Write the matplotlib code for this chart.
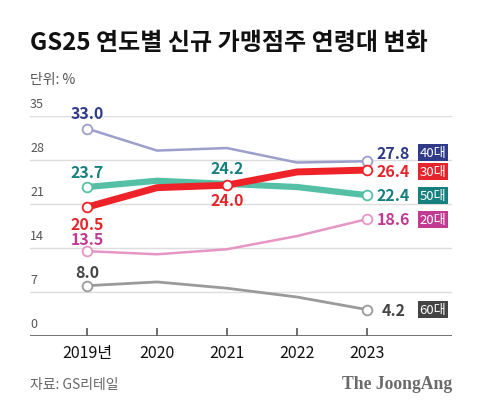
import matplotlib.pyplot as plt
import numpy as np

plt.rcParams['font.family'] = ['Noto Sans CJK KR', 'DejaVu Sans']

years = [2019, 2020, 2021, 2022, 2023]
ages = ['40대', '30대', '50대', '20대', '60대']
share = {
    '40대': [33.0, 29.5, 29.9, 27.6, 27.8],
    '30대': [20.5, 23.6, 24.0, 26.1, 26.4],
    '50대': [23.7, 24.7, 24.2, 23.7, 22.4],
    '20대': [13.5, 13.0, 13.8, 15.9, 18.6],
    '60대': [8.0, 8.6, 7.6, 6.2, 4.2],
}
yticks = [0, 7, 14, 21, 28, 35]
xlabels = ['2019년', '2020', '2021', '2022', '2023']

# styles: line colour, text colour, line width, zorder
style = {
    '40대': ('#9c9fcc', '#2f3a88', 1.8, 3),
    '30대': ('#ee2228', '#e4262c', 5.0, 5),
    '50대': ('#55c0a6', '#16807f', 4.5, 4),
    '20대': ('#e596c4', '#c23b92', 1.8, 3),
    '60대': ('#9a9a9a', '#444444', 2.0, 3),
}
# label offsets (points): first point, last point
first_off = {'40대': 11, '30대': -12, '50대': 11, '20대': 9, '60대': 10}
last_off = {'40대': 6, '30대': -1, '50대': 0, '20대': 0, '60대': 0}
markers_at = {'30대': [0, 2, 4]}


def main():
    fig = plt.figure(figsize=(4.8, 4.14), dpi=100)
    ax = fig.add_axes([30 / 480, 77 / 414, 422 / 480, 220 / 414])
    ax.set_xlim(2018.186, 2024.214)
    ax.set_ylim(0, 35)

    for s in ax.spines.values():
        s.set_visible(False)
    for t in yticks[1:]:
        ax.axhline(t, color='#dddddd', lw=1.0, zorder=1)
    ax.axhline(0, color='#666666', lw=2.0, zorder=2)

    ax.set_yticks([])
    for t in yticks:
        ax.text(2018.186, t + 1.0, str(t), fontsize=9, color='#555555',
                ha='left', va='bottom')

    ax.set_xticks(years)
    ax.set_xticklabels(xlabels, fontsize=11.5, color='#111111')
    ax.tick_params(axis='x', direction='in', length=6, width=1.2,
                   color='#555555', pad=6)

    for age in ages:
        vals = share[age]
        lc, tc, lw, z = style[age]
        ax.plot(years, vals, color=lc, lw=lw, zorder=z,
                solid_capstyle='round', solid_joinstyle='round')
        idx = markers_at.get(age, [0, 4])
        ax.plot([years[i] for i in idx], [vals[i] for i in idx], 'o',
                ms=7, mfc='white', mec=lc, mew=1.3, zorder=z + 0.5)
        # first value label
        off = first_off[age]
        ax.annotate(f'{vals[0]:.1f}', (years[0], vals[0]),
                    xytext=(0, off), textcoords='offset points',
                    ha='center', va='center', fontsize=11.5,
                    fontweight='bold', color=tc, zorder=10)
        # right-side label + box
        ax.annotate(f'{vals[-1]:.1f}', (years[-1], vals[-1]),
                    xytext=(19, last_off[age]), textcoords='offset points',
                    ha='center', va='center', fontsize=11.5,
                    fontweight='bold', color=tc, zorder=10,
                    annotation_clip=False)
        ax.annotate(age, (years[-1], vals[-1]),
                    xytext=(47.5, last_off[age]), textcoords='offset points',
                    ha='center', va='center', fontsize=9.5, color='white',
                    zorder=10, annotation_clip=False,
                    bbox=dict(boxstyle='square,pad=0.15', fc=tc, ec='none'))

    # 2021 labels
    ax.annotate(f'{share["50대"][2]:.1f}', (years[2], share['30대'][2]),
                xytext=(0, 12), textcoords='offset points', ha='center',
                va='center', fontsize=11.5, fontweight='bold',
                color=style['50대'][1], zorder=10)
    ax.annotate(f'{share["30대"][2]:.1f}', (years[2], share['30대'][2]),
                xytext=(0, -11), textcoords='offset points', ha='center',
                va='center', fontsize=11.5, fontweight='bold',
                color=style['30대'][1], zorder=10)

    fig.text(30 / 480, 1 - 43 / 414, 'GS25 연도별 신규 가맹점주 연령대 변화',
             fontsize=17.3, fontweight='black', ha='left', va='center',
             color='#111111')
    fig.text(30 / 480, 1 - 80 / 414, '단위: %', fontsize=10,
             color='#555555', ha='left', va='center')
    fig.text(30 / 480, 1 - 385 / 414, '자료: GS리테일', fontsize=10,
             color='#666666', ha='left', va='center')
    fig.text(452 / 480, 1 - 385 / 414, 'The JoongAng', fontsize=12.7,
             family='Liberation Serif', fontweight='bold', color='#6a6a6a',
             ha='right', va='center')

    fig.savefig('out.png', dpi=100, facecolor='white')


if __name__ == '__main__':
    main()
